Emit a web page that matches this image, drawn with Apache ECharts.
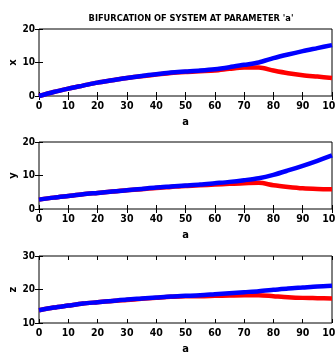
<!DOCTYPE html>
<html><head><meta charset="utf-8">
<script src="https://cdn.jsdelivr.net/npm/echarts@6/dist/echarts.min.js"></script>
<style>html,body{margin:0;padding:0;background:#fff}#c{width:335px;height:355px}</style>
</head><body><div id="c"></div>
<script>
const aVals = [0,5,10,15,20,25,30,35,40,45,50,55,60,65,70,75,80,85,90,95,100];
const xBlue = [0,1.2,2.2,3.1,4.0,4.7,5.4,6.0,6.5,7.0,7.3,7.6,8.0,8.6,9.3,10.0,11.3,12.4,13.4,14.3,15.2];
const xRed  = [0,1.2,2.2,3.1,4.0,4.7,5.4,5.9,6.4,6.9,7.2,7.4,7.6,8.1,8.5,8.5,7.6,6.8,6.2,5.8,5.4];
const yBlue = [2.8,3.4,3.9,4.4,4.8,5.2,5.6,6.0,6.4,6.7,7.0,7.3,7.7,8.1,8.6,9.2,10.2,11.5,12.9,14.4,16.0];
const yRed  = [2.8,3.4,3.9,4.4,4.8,5.2,5.6,5.9,6.3,6.6,6.9,7.1,7.3,7.5,7.7,7.8,7.1,6.6,6.2,6.0,5.9];
const zBlue = [13.8,14.6,15.2,15.8,16.2,16.6,17.0,17.3,17.6,17.9,18.1,18.3,18.6,18.9,19.2,19.5,19.9,20.3,20.6,20.9,21.1];
const zRed  = [13.8,14.6,15.2,15.8,16.2,16.6,16.9,17.2,17.5,17.8,18.0,18.0,18.1,18.2,18.3,18.3,18.0,17.7,17.5,17.4,17.3];
const yNames = ['x','y','z'];
const yRanges = [[0,20],[0,20],[10,30]];
const titleText = "BIFURCATION OF SYSTEM AT PARAMETER 'a'";
const xName = 'a';

const FONT = '"DejaVu Sans", sans-serif';
const W = 'bold condensed';
const tops = [29,142,256];
const grids = tops.map(t => ({left:39, right:3, top:t, height:67, show:true, borderColor:'#000', borderWidth:1,
  backgroundColor:'#fff', containLabel:false, outerBoundsMode:'none'}));
const xAxes = [], yAxes = [], series = [];
const pairs = [[xBlue,xRed],[yBlue,yRed],[zBlue,zRed]];
for (let i=0;i<3;i++){
  xAxes.push({gridIndex:i, type:'value', min:0, max:100, interval:10, position:'bottom',
    name:xName, nameLocation:'middle', nameGap:21, nameMoveOverlap:false, nameTextStyle:{fontFamily:FONT,fontSize:11,fontWeight:W,color:'#000'},
    axisLine:{show:false}, axisTick:{show:true, inside:true, length:4, lineStyle:{color:'#000'}},
    axisLabel:{fontFamily:FONT, fontSize:10.5, color:'#000', margin:5, fontWeight:W, hideOverlap:false}, splitLine:{show:false}});
  xAxes.push({gridIndex:i, type:'value', min:0, max:100, interval:10, position:'top',
    axisLine:{show:false}, axisTick:{show:true, inside:true, length:4, lineStyle:{color:'#000'}},
    axisLabel:{show:false}, splitLine:{show:false}});
  yAxes.push({gridIndex:i, type:'value', min:yRanges[i][0], max:yRanges[i][1], interval:10, position:'left',
    name:yNames[i], nameLocation:'middle', nameGap:20, nameRotate:90, nameMoveOverlap:false, nameTextStyle:{fontFamily:FONT,fontSize:11,fontWeight:W,color:'#000'},
    axisLine:{show:false}, axisTick:{show:true, inside:true, length:4, lineStyle:{color:'#000'}},
    axisLabel:{fontFamily:FONT, fontSize:10, color:'#000', margin:4, fontWeight:W}, splitLine:{show:false}});
  yAxes.push({gridIndex:i, type:'value', min:yRanges[i][0], max:yRanges[i][1], interval:10, position:'right',
    axisLine:{show:false}, axisTick:{show:true, inside:true, length:4, lineStyle:{color:'#000'}},
    axisLabel:{show:false}, splitLine:{show:false}});
  const [b,r] = pairs[i];
  series.push({type:'line', xAxisIndex:2*i, yAxisIndex:2*i, data:aVals.map((a,k)=>[a,r[k]]), smooth:0.3,
    showSymbol:false, lineStyle:{color:'#ff0000', width:4.5}, z:2, silent:true});
  series.push({type:'line', xAxisIndex:2*i, yAxisIndex:2*i, data:aVals.map((a,k)=>[a,b[k]]), smooth:0.3,
    showSymbol:false, lineStyle:{color:'#0000ff', width:4.5}, z:3, silent:true});
}
const chart = echarts.init(document.getElementById('c'), null, {renderer:'canvas'});
chart.setOption({
  animation:false,
  backgroundColor:'#fff',
  title:{text:titleText, left:186, top:9, textAlign:'center', textStyle:{fontFamily:FONT, fontSize:9.2, fontWeight:W, color:'#000'}},
  grid:grids, xAxis:xAxes, yAxis:yAxes, series:series
});
</script></body></html>
